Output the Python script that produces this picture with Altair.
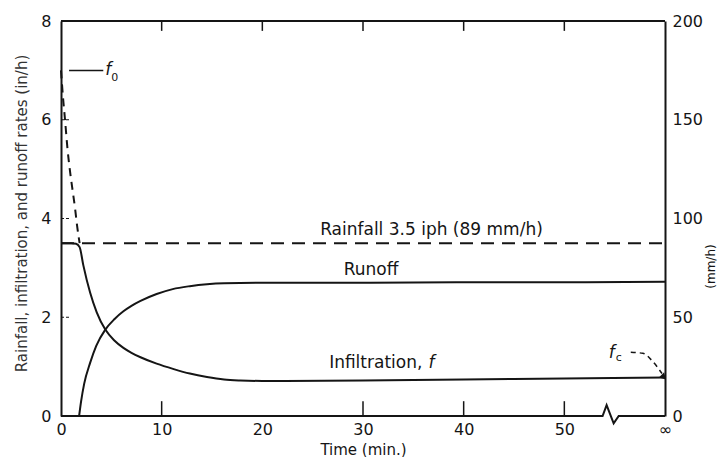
import altair as alt
import pandas as pd

# ---- data (time in min, rates in in/h) ----
infil_t = [0, 1.0, 1.5, 1.85, 2.22, 2.89, 3.55, 4.4, 5.3, 6.2, 7.0, 7.9, 9.5, 11.2, 12.8, 14.5, 16.2, 17.8, 20, 30, 40, 50, 60]
infil_f = [3.5, 3.5, 3.49, 3.42, 3.05, 2.5, 2.1, 1.75, 1.53, 1.38, 1.28, 1.19, 1.06, 0.95, 0.86, 0.79, 0.74, 0.72, 0.71, 0.72, 0.74, 0.76, 0.78]

runoff_t = [1.8, 2.0, 2.3, 2.9, 3.5, 4.4, 5.3, 6.2, 7.0, 7.9, 9.5, 11.1, 12.8, 14.5, 16.2, 20, 30, 40, 50, 60]
runoff_r = [0, 0.3, 0.65, 1.08, 1.42, 1.75, 1.96, 2.12, 2.23, 2.33, 2.47, 2.57, 2.63, 2.67, 2.69, 2.70, 2.70, 2.71, 2.71, 2.72]

cap_t = [0, 0.2, 0.4, 0.65, 0.9, 1.2, 1.4, 1.6, 1.85]
cap_f = [7.0, 6.45, 6.0, 5.4, 4.95, 4.5, 4.2, 3.85, 3.5]

rain_t = [0, 60]
rain_f = [3.5, 3.5]
rain_mm = [89, 89]

x_ticks = [0, 10, 20, 30, 40, 50, 60]
y_ticks = [0, 2, 4, 6, 8]
mm_ticks = [0, 50, 100, 150, 200]
bottom_marks = [10, 30, 40, 50]
top_marks = [10, 20, 30, 40, 50]
left_marks = [2, 4, 6]

brk_t = [0, 53.8, 54.2, 54.9, 55.4, 60]
brk_v = [0, 0, 0.22, -0.15, 0, 0]

f0_lead_t = [0.8, 4.2]
f0_lead_v = [7.0, 7.0]
fc_arrow_t = [56.6, 57.8, 58.8, 59.7]
fc_arrow_v = [1.29, 1.27, 1.1, 0.86]

FONT = "DejaVu Sans"
INK = "#151515"

X = alt.X("t:Q", scale=alt.Scale(domain=[0, 60], nice=False, zero=False),
          axis=alt.Axis(values=x_ticks, labelExpr="datum.value == 60 ? '∞' : datum.label",
                        title="Time (min.)", domain=False, ticks=False, grid=False,
                        labelFont=FONT, labelFontSize=16, labelColor=INK, labelPadding=5,
                        labelFlush=False, labelOverlap=False,
                        titleFont=FONT, titleFontSize=15, titleFontWeight="normal",
                        titleColor=INK, titlePadding=5))
Y = alt.Y("v:Q", scale=alt.Scale(domain=[0, 8], nice=False),
          axis=alt.Axis(values=y_ticks, title="Rainfall, infiltration, and runoff rates (in/h)",
                        domain=True, domainColor=INK, domainWidth=2, ticks=False, grid=False,
                        labelFont=FONT, labelFontSize=16, labelColor=INK, labelPadding=10,
                        labelFlush=False, labelOverlap=False,
                        titleFont=FONT, titleFontSize=15, titleFontWeight="normal",
                        titleColor="#333", titlePadding=11, titleY=192))


def df(**cols):
    return pd.DataFrame(cols)


line_kw = dict(color=INK, strokeWidth=2)

infil = alt.Chart(df(t=infil_t, v=infil_f)).mark_line(interpolate="monotone", **line_kw).encode(x=X, y=Y)
runoff = alt.Chart(df(t=runoff_t, v=runoff_r)).mark_line(interpolate="monotone", **line_kw).encode(x=X, y=Y)
cap = alt.Chart(df(t=cap_t, v=cap_f)).mark_line(interpolate="monotone", strokeDash=[8, 6], **line_kw).encode(x=X, y=Y)
rain = alt.Chart(df(t=rain_t, v=rain_f)).mark_line(strokeDash=[13, 8], **line_kw).encode(x=X, y=Y)

top = alt.Chart(df(t=[x_ticks[0]], t2=[x_ticks[-1]], v=[y_ticks[-1]])).mark_rule(color=INK, strokeWidth=2).encode(
    x=X, x2="t2:Q", y=Y)
brk = alt.Chart(df(t=brk_t, v=brk_v)).mark_line(color=INK, strokeWidth=2).encode(x=X, y=Y)

bticks = alt.Chart(df(t=bottom_marks, v=[0] * len(bottom_marks), v2=[0.3] * len(bottom_marks))).mark_rule(
    color=INK, strokeWidth=1.5).encode(x=X, y=Y, y2="v2:Q")
tticks = alt.Chart(df(t=top_marks, v=[8] * len(top_marks), v2=[7.8] * len(top_marks))).mark_rule(
    color=INK, strokeWidth=1.5).encode(x=X, y=Y, y2="v2:Q")
lticks = alt.Chart(df(t=[0] * len(left_marks), t2=[0.9] * len(left_marks), v=left_marks)).mark_rule(
    color=INK, strokeWidth=1.2, strokeDash=[3, 2]).encode(x=X, x2="t2:Q", y=Y)

f0_lead = alt.Chart(df(t=f0_lead_t, v=f0_lead_v)).mark_line(color=INK, strokeWidth=1.5).encode(x=X, y=Y)
fc_arrow = alt.Chart(df(t=fc_arrow_t, v=fc_arrow_v)).mark_line(
    color=INK, strokeWidth=1.5, strokeDash=[5, 4], interpolate="monotone").encode(x=X, y=Y)
fc_head = alt.Chart(df(t=[59.8], v=[0.8])).mark_point(
    shape="triangle", angle=135, size=55, filled=True, color=INK, opacity=1).encode(x=X, y=Y)


def label(t, v, text, size=17, align="center", style="normal"):
    return alt.Chart(df(t=[t], v=[v], s=[text])).mark_text(
        font=FONT, fontSize=size, align=align, baseline="middle", color=INK, fontStyle=style
    ).encode(x=X, y=Y, text="s:N")


texts = [
    label(36.8, 3.77, "Rainfall 3.5 iph (89 mm/h)"),
    label(30.8, 2.96, "Runoff"),
    label(35.9, 1.07, "Infiltration,", align="right"),
    label(36.5, 1.07, "f", align="left", style="italic"),
    label(4.4, 7.0, "f", align="left", style="italic"),
    label(5.0, 6.85, "0", size=11, align="left"),
    label(54.4, 1.28, "f", align="left", style="italic"),
    label(55.1, 1.17, "c", size=11, align="left"),
]

left = alt.layer(rain, cap, infil, runoff, top, brk, bticks, tticks, lticks, f0_lead, fc_arrow, fc_head, *texts)

right = alt.Chart(df(t=rain_t, mm=rain_mm)).mark_line(strokeOpacity=0).encode(
    x=X,
    y=alt.Y("mm:Q", scale=alt.Scale(domain=[0, 200], nice=False),
            axis=alt.Axis(values=mm_ticks, orient="right", title="(mm/h)", titleAngle=270,
                          titleBaseline="top", titleY=245,
                          domain=True, domainColor=INK, domainWidth=2, ticks=False, grid=False,
                          labelFont=FONT, labelFontSize=16, labelColor=INK, labelPadding=7,
                          labelFlush=False, labelOverlap=False,
                          titleFont=FONT, titleFontSize=12, titleFontWeight="normal",
                          titleColor=INK, titlePadding=3)))

chart = alt.layer(left, right).resolve_scale(y="independent").properties(
    width=604, height=395,
    padding={"left": 53, "top": 13, "right": 53, "bottom": 41},
    autosize=alt.AutoSizeParams(type="none"),
    background="white",
).configure_view(stroke=None)

chart.save("out.html", embed_options={"renderer": "svg", "actions": False})
